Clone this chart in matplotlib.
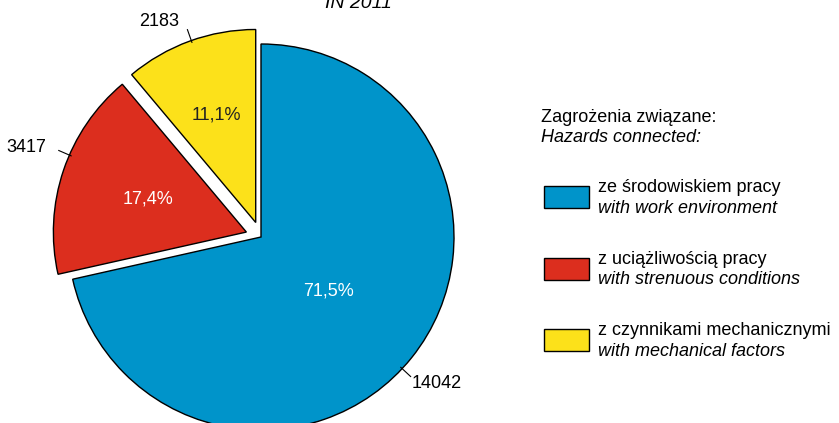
import numpy as np
import matplotlib.pyplot as plt

plt.rcParams['font.family'] = ['Liberation Sans', 'DejaVu Sans']

values = [14042, 3417, 2183]
colors = ['#0094ca', '#dc2e1e', '#fce11a']
explode = [0, 0.08, 0.08]
names_pl = ['ze środowiskiem pracy', 'z uciążliwością pracy', 'z czynnikami mechanicznymi']
names_en = ['with work environment', 'with strenuous conditions', 'with mechanical factors']
pct_colors = ['white', 'white', '#222222']

W, H = 839, 423
cx, cy, r = 261, 237, 193   # pie centre and radius in pixels
lim = 1.5
fs = 13

fig = plt.figure(figsize=(W / 100, H / 100), dpi=100)
ax = fig.add_axes([(cx - lim * r) / W, (H - cy - lim * r) / H, 2 * lim * r / W, 2 * lim * r / H])
wedges, _ = ax.pie(values, colors=colors, explode=explode, startangle=90, counterclock=False,
                   wedgeprops=dict(edgecolor='black', linewidth=1))
ax.set_xlim(-lim, lim)
ax.set_ylim(-lim, lim)
ax.set_aspect('equal')
ax.axis('off')

total = sum(values)
pct_dist = [0.45, 0.54, 0.59]
for i, w in enumerate(wedges):
    mid = np.deg2rad((w.theta1 + w.theta2) / 2)
    ox, oy = w.center
    pct = 100 * values[i] / total
    ax.text(ox + pct_dist[i] * np.cos(mid), oy + pct_dist[i] * np.sin(mid),
            f'{pct:.1f}%'.replace('.', ','), color=pct_colors[i], fontsize=fs,
            ha='center', va='center')

# value labels with short leader lines
line_ang = [-43, 156.5, 109.5]
label_pos = [(0.91, -0.76), (-1.14, 0.44), (-0.50, 1.04)]
for i, w in enumerate(wedges):
    a = np.deg2rad(line_ang[i])
    ox, oy = w.center
    ax.plot([ox + 0.99 * np.cos(a), ox + 1.06 * np.cos(a)],
            [oy + 0.99 * np.sin(a), oy + 1.06 * np.sin(a)], color='black', linewidth=0.8)
    ax.text(ox + label_pos[i][0], oy + label_pos[i][1], str(values[i]), fontsize=fs,
            ha='center', va='center')

fig.text(358 / W, 1 - 8 / H, 'IN 2011', fontsize=14, style='italic',
         ha='center', va='baseline')

# legend
fig.text(541 / W, 1 - 117 / H, 'Zagrożenia związane:', fontsize=fs, va='center')
fig.text(541 / W, 1 - 137 / H, 'Hazards connected:', fontsize=fs, style='italic', va='center')
box_y = [197, 269, 340]
for i in range(3):
    yc = box_y[i]
    fig.patches.append(plt.Rectangle((544 / W, 1 - (yc + 11) / H), 45 / W, 22 / H,
                                     transform=fig.transFigure, facecolor=colors[i],
                                     edgecolor='black', linewidth=1))
    fig.text(598 / W, 1 - (yc - 10) / H, names_pl[i], fontsize=fs, va='center')
    fig.text(598 / W, 1 - (yc + 11) / H, names_en[i], fontsize=fs, style='italic', va='center')

fig.savefig('out.png', dpi=100)
